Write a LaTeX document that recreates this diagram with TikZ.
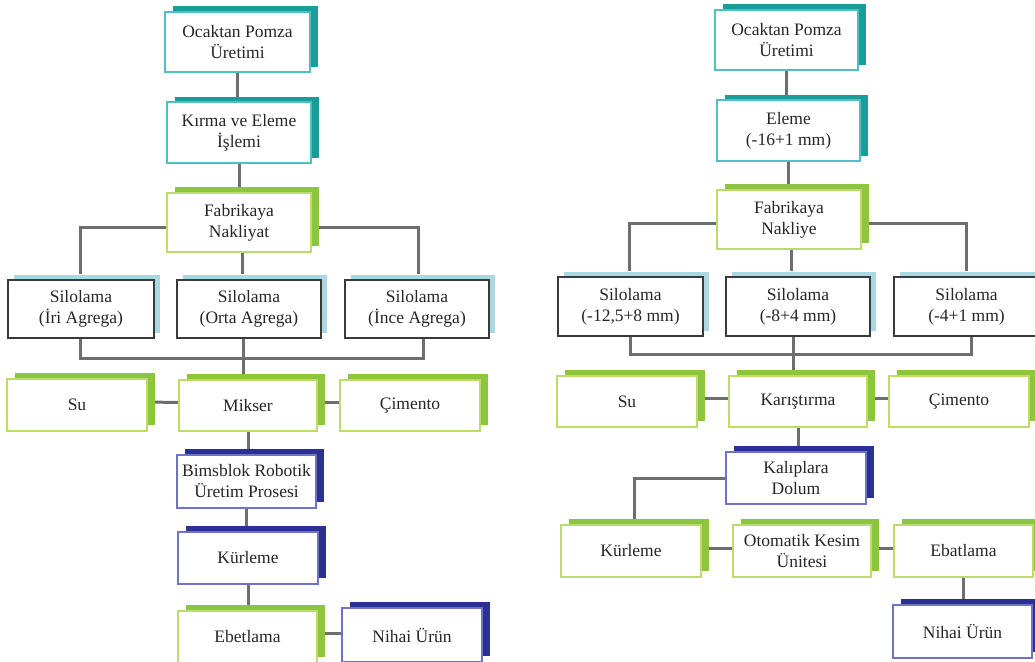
\documentclass[tikz,border=0pt]{standalone}
\usepackage{fontspec}
\setmainfont{Liberation Serif}
\usetikzlibrary{shadows,calc,backgrounds}
\definecolor{tealD}{HTML}{1A9C98}
\definecolor{tealL}{HTML}{4EC0C4}
\definecolor{grnD}{HTML}{8CC63F}
\definecolor{grnL}{HTML}{BCDB6A}
\definecolor{navD}{HTML}{2B318F}
\definecolor{navL}{HTML}{6E72C8}
\definecolor{bluS}{HTML}{A9D8E2}
\definecolor{siloB}{HTML}{3A3A3A}
\definecolor{conn}{HTML}{6E6E6E}
\tikzset{
  base/.style={rectangle, fill=white, inner sep=0pt, align=center,
    font=\fontsize{17.5}{21}\selectfont, text=black!85},
  tealbox/.style={base, draw=tealL, line width=1.8pt,
    copy shadow={shadow xshift=7.5pt, shadow yshift=5.5pt, fill=tealD, draw=none}},
  grnbox/.style={base, draw=grnL, line width=1.8pt,
    copy shadow={shadow xshift=7.5pt, shadow yshift=6pt, fill=grnD, draw=none}},
  navbox/.style={base, draw=navL, line width=1.5pt,
    copy shadow={shadow xshift=7.5pt, shadow yshift=6.5pt, fill=navD, draw=none}},
  silobox/.style={base, draw=siloB, line width=1.4pt,
    copy shadow={shadow xshift=5.5pt, shadow yshift=5pt, fill=bluS, draw=none}},
  sz/.style 2 args={minimum width=#1pt, minimum height=#2pt},
  link/.style={draw=conn, line width=3pt}
}
\begin{document}
\begin{tikzpicture}[x=1pt,y=-1pt]
\useasboundingbox (0,0) rectangle (1035,661);
% ---------------- left diagram ----------------
\node[tealbox, sz={145}{60}] (L1) at (237.5,42) {Ocaktan Pomza\\Üretimi};
\node[tealbox, sz={144}{61}] (L2) at (239,132.5) {Kırma ve Eleme\\İşlemi};
\node[grnbox, sz={144}{59}] (L3) at (239,222.5) {Fabrikaya\\Nakliyat};
\node[silobox, sz={146}{58}] (L4) at (81,309) {Silolama\\(İri Agrega)};
\node[silobox, sz={144}{58}] (L5) at (249,309) {Silolama\\(Orta Agrega)};
\node[silobox, sz={144}{58}] (L6) at (417,309) {Silolama\\(İnce Agrega)};
\node[grnbox, sz={140}{52}] (L7) at (77,405) {Su};
\node[grnbox, sz={138}{51}] (L8) at (248,405.5) {Mikser};
\node[grnbox, sz={140}{51}] (L9) at (410,405.5) {Çimento};
\node[navbox, sz={139}{53}] (L10) at (246.5,481.5) {Bimsblok Robotik\\Üretim Prosesi};
\node[navbox, sz={140}{52}] (L11) at (248,558) {Kürleme};
\node[grnbox, sz={139}{52}] (L12) at (247.5,637) {Ebetlama};
\node[navbox, sz={140}{54}] (L13) at (412,635) {Nihai Ürün};
% ---------------- right diagram ----------------
\node[tealbox, sz={143}{60}] (R1) at (786.5,40) {Ocaktan Pomza\\Üretimi};
\node[tealbox, sz={143}{61}] (R2) at (788.5,130.5) {Eleme\\(-16+1 mm)};
\node[grnbox, sz={144}{59}] (R3) at (789,219.5) {Fabrikaya\\Nakliye};
\node[silobox, sz={145}{59}] (R4) at (630.5,306.5) {Silolama\\(-12,5+8 mm)};
\node[silobox, sz={144}{59}] (R5) at (798,306.5) {Silolama\\(-8+4 mm)};
\node[silobox, sz={145}{59}] (R6) at (966.5,306.5) {Silolama\\(-4+1 mm)};
\node[grnbox, sz={140}{51}] (R7) at (627,401.5) {Su};
\node[grnbox, sz={138}{51}] (R8) at (798,401.5) {Karıştırma};
\node[grnbox, sz={140}{51}] (R9) at (959,401.5) {Çimento};
\node[navbox, sz={140}{52}] (R10) at (796,478) {Kalıplara\\Dolum};
\node[grnbox, sz={140}{52}] (R11) at (631,551) {Kürleme};
\node[grnbox, sz={138}{52}] (R12) at (802,551) {Otomatik Kesim\\Ünitesi};
\node[grnbox, sz={139}{52}] (R13) at (963.5,551) {Ebatlama};
\node[navbox, sz={139}{53}] (R14) at (962.5,631.5) {Nihai Ürün};
% ---------------- connectors ----------------
\begin{scope}[on background layer]
  % left
  \draw[link] (L1.south) -- (L1.south |- L2.north);
  \draw[link] (L2.south) -- (L2.south |- L3.north);
  \coordinate (tL) at (242,227);
  \draw[link] ($(L4.north)+(-1,-5)$) |- (tL) -| ($(L6.north)+(1,-5)$);
  \draw[link] (tL |- L3.south) -- ($(tL |- L5.north)+(0,-5)$);
  \coordinate (bL) at (243,358);
  \draw[link] ($(L4.south)+(-1,0)$) |- (bL) -| ($(L6.south)+(6,0)$);
  \draw[link] (bL |- L5.south) -- (bL |- L8.north);
  \draw[link] ($(L7.east)+(0,-3)$) -- ($(L8.west)+(0,-3)$);
  \draw[link] ($(L8.east)+(0,-3)$) -- ($(L9.west)+(0,-3)$);
  \draw[link] (L8.south) -- (L8.south |- L10.north);
  \draw[link] (L10.south) -- (L10.south |- L11.north);
  \draw[link] (L11.south) -- (L11.south |- L12.north);
  \draw[link] ($(L12.east)+(0,-4)$) -- ($(L13.west)+(0,-2)$);
  % right
  \draw[link] (R1.south) -- (R1.south |- R2.north);
  \draw[link] (R2.south) -- (R2.south |- R3.north);
  \coordinate (tR) at (791,223);
  \draw[link] ($(R4.north)+(-1,-5)$) |- (tR) -| ($(R6.north)+(0,-5)$);
  \draw[link] (tR |- R3.south) -- ($(tR |- R5.north)+(0,-5)$);
  \coordinate (bR) at (793,354);
  \draw[link] (R4.south) |- (bR) -| ($(R6.south)+(5,0)$);
  \draw[link] (bR |- R5.south) -- (bR |- R8.north);
  \draw[link] ($(R7.east)+(0,-3)$) -- ($(R8.west)+(0,-3)$);
  \draw[link] ($(R8.east)+(0,-3)$) -- ($(R9.west)+(0,-3)$);
  \draw[link] (R8.south) -- (R8.south |- R10.north);
  \draw[link] (R10.west) -| ($(R11.north)+(3,0)$);
  \draw[link] ($(R11.east)+(0,-3)$) -- ($(R12.west)+(0,-3)$);
  \draw[link] ($(R12.east)+(0,-3)$) -- ($(R13.west)+(0,-3)$);
  \draw[link] (R13.south) -- (R13.south |- R14.north);
\end{scope}
\end{tikzpicture}
\end{document}
